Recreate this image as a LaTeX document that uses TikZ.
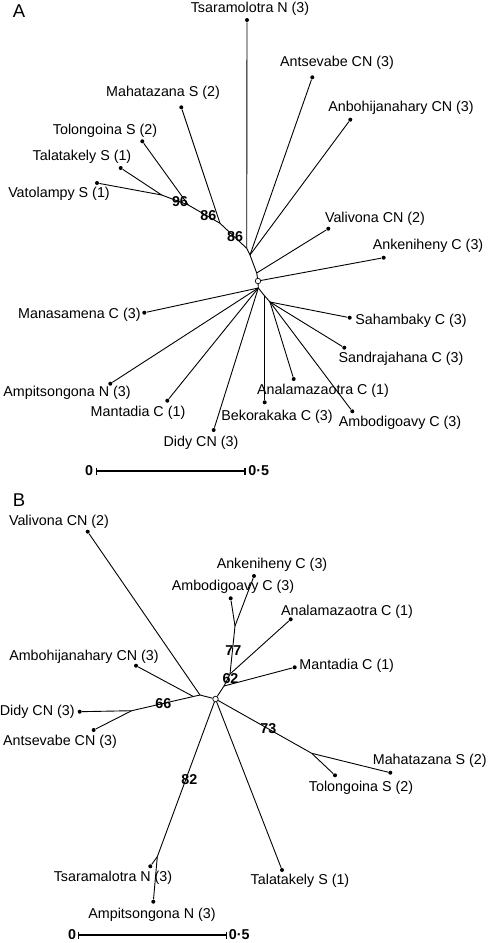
\documentclass[tikz,border=0pt]{standalone}
\usepackage{fontspec}
\setmainfont{Liberation Sans}
\begin{document}
\begin{tikzpicture}[x=1pt,y=-1pt,line width=0.9pt,
  tip/.style={circle,fill,inner sep=0pt,minimum size=4pt},
  rootdot/.style={circle,draw,fill=white,inner sep=0pt,minimum size=5.5pt,line width=0.7pt},
  lab/.style={font=\fontsize{14.3}{16}\selectfont,inner sep=0pt},
  boot/.style={font=\fontsize{14.3}{16}\selectfont\bfseries,inner sep=0pt},
  panel/.style={font=\fontsize{18.5}{20}\selectfont,inner sep=0pt},
  bar/.style={line width=1.8pt}]
\useasboundingbox (0,0) rectangle (488,943);

% panel A
\node[panel] (pA) at (19,11.5) {A};
\foreach \n/\x/\y in {tsaA/247/20,antA/312.3/77.3,anbA/350.3/119.7,mahA/181.3/107.3,
  tolA/142.3/141.3,talA/120.7/168,vatA/97/183,valA/328.3/228.7,ankA/383.7/257.7,
  manA/144.3/312.7,ampA/110.3/383.7,mntA/167.3/400.7,didA/213.7/430,bekA/264.7/402.3,
  anlA/293.7/379,ambA/352.3/411.3,sahA/349.7/317.7,sanA/344.3/347.7}{
\node[tip] (\n) at (\x,\y) {};
}
\foreach \n/\x/\y in {a1/161.7/195,a2/188.3/205,a3/220/223.3,a4/246.7/248.3,a5/250/255,
  a6/256.7/273,a7/258.3/288,a9/264.7/296,a10/270/302}{
\coordinate (\n) at (\x,\y);
}
\node[rootdot] (rootA) at (258,281) {};
\foreach \a/\b in {a1/vatA,a1/talA,a1/a2,a2/tolA,a2/a3,a3/mahA,a3/a4,a4/tsaA,a4/a5,
  a5/antA,a5/anbA,a5/a6,a6/valA,a6/rootA,rootA/ankA,rootA/a7,a7/manA,a7/ampA,a7/mntA,
  a7/didA,a7/a9,a9/bekA,a9/a10,a10/anlA,a10/ambA,a10/sanA,a10/sahA}{
\draw (\a) -- (\b);
}
\node[lab] (ltsaA) at (250,9) {Tsaramolotra N (3)};
\node[lab] (lantA) at (337,63) {Antsevabe CN (3)};
\node[lab] (lanbA) at (401,108) {Anbohijanahary CN (3)};
\node[lab] (lmahA) at (163,93) {Mahatazana S (2)};
\node[lab] (ltolA) at (105,131) {Tolongoina S (2)};
\node[lab] (ltalA) at (82,157) {Talatakely S (1)};
\node[lab] (lvatA) at (59,194) {Vatolampy S (1)};
\node[lab] (lvalA) at (375,219) {Valivona CN (2)};
\node[lab] (lankA) at (428,246) {Ankeniheny C (3)};
\node[lab,anchor=east] (lmanA) at (141,315) {Manasamena C (3)};
\node[lab] (lampA) at (67,393) {Ampitsongona N (3)};
\node[lab] (lmntA) at (138,413) {Mantadia C (1)};
\node[lab] (ldidA) at (201,443) {Didy CN (3)};
\node[lab] (lbekA) at (277,417) {Bekorakaka C (3)};
\node[lab] (lanlA) at (323,391) {Analamazaotra C (1)};
\node[lab] (lambA) at (400,423) {Ambodigoavy C (3)};
\node[lab,anchor=west] (lsahA) at (355,320.7) {Sahambaky C (3)};
\node[lab] (lsanA) at (401,359) {Sandrajahana C (3)};
\node[boot] (b96A) at (180,201.7) {96};
\node[boot] (b86A) at (208.3,216) {86};
\node[boot] (b86bA) at (235,236.7) {86};
% scale A
\coordinate (sA0) at (96.7,471);
\coordinate (sA1) at (245,471);
\draw[bar] (sA0) -- (sA1);
\draw[line width=1.2pt] ([yshift=3.5pt]sA0) -- ([yshift=-3.5pt]sA0);
\draw[line width=1.2pt] ([yshift=3.5pt]sA1) -- ([yshift=-3.5pt]sA1);
\node[boot,anchor=east] (s0A) at (93.5,471) {0};
\node[boot,anchor=west] (s5A) at (248,471) {0·5};

% panel B
\node[panel] (pB) at (19,500) {B};
\foreach \n/\x/\y in {valB/87.7/531.7,ankB/254/576,ambB/230.7/598.3,anlB/290.7/619.3,
  mntB/294.7/667.3,anbB/136/665.7,didB/79.7/711.7,antB/93.7/730,mahB/390.3/772.7,
  tolB/335/775.3,talB/282/870,tsaB/150.3/866.3,ampB/153.3/901.7}{
\node[tip] (\n) at (\x,\y) {};
}
\foreach \n/\x/\y in {b1/224/686,b2/230/674,b3/235/626,b4/200/695,b5/193.3/696.5,
  b6/131.7/710.7,b7/311.7/753.3,b8/157.3/856.7}{
\coordinate (\n) at (\x,\y);
}
\node[rootdot] (rootB) at (215.5,699) {};
\foreach \a/\b in {rootB/b1,b1/mntB,b1/b2,b2/anlB,b2/b3,b3/ambB,b3/ankB,rootB/b4,
  b4/valB,b4/b5,b5/anbB,b5/b6,b6/didB,b6/antB,rootB/b7,b7/mahB,b7/tolB,rootB/talB,
  rootB/b8,b8/tsaB,b8/ampB}{
\draw (\a) -- (\b);
}
\node[lab] (lvalB) at (59,522) {Valivona CN (2)};
\node[lab] (lankB) at (272,565) {Ankeniheny C (3)};
\node[lab] (lambB) at (233,587) {Ambodigoavy C (3)};
\node[lab] (lanlB) at (347,612) {Analamazaotra C (1)};
\node[lab,anchor=west] (lmntB) at (299,665.7) {Mantadia C (1)};
\node[lab] (lanbB) at (84,656.5) {Ambohijanahary CN (3)};
\node[lab,anchor=east] (ldidB) at (75,711.7) {Didy CN (3)};
\node[lab] (lantB) at (60,742) {Antsevabe CN (3)};
\node[lab,anchor=east] (lmahB) at (487,761) {Mahatazana S (2)};
\node[lab] (ltolB) at (361,788) {Tolongoina S (2)};
\node[lab] (ltalB) at (300,881) {Talatakely S (1)};
\node[lab] (ltsaB) at (113,878) {Tsaramalotra N (3)};
\node[lab] (lampB) at (152,915) {Ampitsongona N (3)};
\node[boot] (b66B) at (163.3,703.3) {66};
\node[boot] (b62B) at (230.5,678.3) {62};
\node[boot] (b77B) at (233.3,650.5) {77};
\node[boot] (b73B) at (268.3,728.3) {73};
\node[boot] (b82B) at (189.3,779.3) {82};
% scale B
\coordinate (sB0) at (78.3,935);
\coordinate (sB1) at (226.7,935);
\draw[bar] (sB0) -- (sB1);
\draw[line width=1.2pt] ([yshift=3.5pt]sB0) -- ([yshift=-3.5pt]sB0);
\draw[line width=1.2pt] ([yshift=3.5pt]sB1) -- ([yshift=-3.5pt]sB1);
\node[boot,anchor=east] (s0B) at (76.5,935) {0};
\node[boot,anchor=west] (s5B) at (228.5,935) {0·5};
\end{tikzpicture}
\end{document}
